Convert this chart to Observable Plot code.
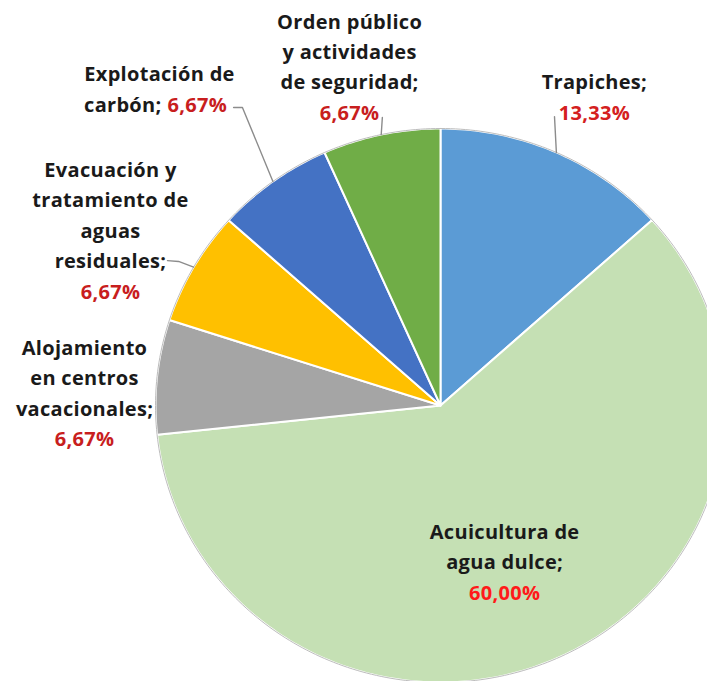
<!DOCTYPE html>
<html>
<head>
<meta charset="utf-8">
<script src="https://cdn.jsdelivr.net/npm/d3@7"></script>
<script src="https://cdn.jsdelivr.net/npm/@observablehq/plot@0.6"></script>
<style>
  html, body { margin: 0; padding: 0; background: #fff; overflow: hidden; }
  #chart svg text { letter-spacing: 0.3px; }
</style>
</head>
<body>
<div id="chart"></div>
<script>
// ---- Data ----
const categories = [
  "Trapiches",
  "Acuicultura de agua dulce",
  "Alojamiento en centros vacacionales",
  "Evacuación y tratamiento de aguas residuales",
  "Explotación de carbón",
  "Orden público y actividades de seguridad"
];
const values = [13.33, 60.00, 6.67, 6.67, 6.67, 6.67];
const pctLabels = ["13,33%", "60,00%", "6,67%", "6,67%", "6,67%", "6,67%"];
const nameLines = [
  ["Trapiches;"],
  ["Acuicultura de", "agua dulce;"],
  ["Alojamiento", "en centros", "vacacionales;"],
  ["Evacuación y", "tratamiento de", "aguas", "residuales;"],
  ["Explotación de", "carbón;"],
  ["Orden público", "y actividades", "de seguridad;"]
];
const sliceColors = ["#5B9BD5", "#C5E0B4", "#A5A5A5", "#FFC000", "#4472C4", "#70AD47"];
const pctColors = ["#D42020", "#FF1A1A", "#C81E1E", "#C81E1E", "#C81E1E", "#C81E1E"];

// ---- Layout (in the chart's data units; radius = 1) ----
const lineStep = 0.110;
const labelLayout = [
  {x: 0.540, y: 1.164},
  {x: 0.225, y: -0.458},
  {x: -1.249, y: 0.207},
  {x: -1.158, y: 0.848},
  {x: -0.986, y: 1.194, inlineEnd: -0.979, inlineStart: -0.958},
  {x: -0.319, y: 1.384}
];
const leaderStarts = [
  [[0.400, 1.043]],
  null,
  null,
  [[-0.958, 0.523], [-0.919, 0.520]],
  [[-0.726, 1.076], [-0.695, 1.076]],
  [[-0.204, 1.040]]
];

// ---- Build geometry from data ----
const total = d3.sum(values);
let acc = 0;
const slices = values.map((v, i) => {
  const a0 = acc / total * 2 * Math.PI;
  acc += v;
  const a1 = acc / total * 2 * Math.PI;
  const n = Math.max(2, Math.ceil((a1 - a0) / (Math.PI / 180)));
  const pts = [{x: 0, y: 0}];
  for (let k = 0; k <= n; k++) {
    const a = a0 + (a1 - a0) * k / n;
    pts.push({x: Math.sin(a), y: Math.cos(a)});
  }
  pts.push({x: 0, y: 0});
  return {i, a0, a1, mid: (a0 + a1) / 2, pts};
});

const outline = d3.range(0, 361).map(d => ({x: Math.sin(d * Math.PI / 180), y: Math.cos(d * Math.PI / 180)}));

const leaders = [];
slices.forEach(s => {
  const st = leaderStarts[s.i];
  if (!st) return;
  const pts = st.map(p => ({x: p[0], y: p[1]}));
  pts.push({x: Math.sin(s.mid), y: Math.cos(s.mid)});
  leaders.push(pts);
});

const midRows = [], endRows = [], startRows = [];
nameLines.forEach((lines, i) => {
  const L = labelLayout[i];
  lines.forEach((t, k) => {
    const y = L.y - k * lineStep;
    if (L.inlineEnd !== undefined && k === lines.length - 1) {
      endRows.push({x: L.inlineEnd, y, text: t, fill: "#1A1A1A"});
      startRows.push({x: L.inlineStart, y, text: pctLabels[i], fill: pctColors[i]});
    } else {
      midRows.push({x: L.x, y, text: t, fill: "#1A1A1A"});
    }
  });
  if (L.inlineEnd === undefined) {
    midRows.push({x: L.x, y: L.y - lines.length * lineStep, text: pctLabels[i], fill: pctColors[i]});
  }
});

const font = {fontFamily: "'Open Sans', 'DejaVu Sans', sans-serif", fontSize: 20, fontWeight: 700, lineAnchor: "middle"};

const marks = [
  ...slices.map(s => Plot.line(s.pts, {x: "x", y: "y", fill: sliceColors[s.i], stroke: "#ffffff", strokeWidth: 2, strokeLinejoin: "round"})),
  Plot.line(outline, {x: "x", y: "y", stroke: "#BDBDBD", strokeWidth: 1}),
  ...leaders.map(p => Plot.line(p, {x: "x", y: "y", stroke: "#8C8C8C", strokeWidth: 1.4})),
  Plot.text(midRows, {x: "x", y: "y", text: "text", fill: "fill", textAnchor: "middle", ...font}),
  Plot.text(endRows, {x: "x", y: "y", text: "text", fill: "fill", textAnchor: "end", ...font}),
  Plot.text(startRows, {x: "x", y: "y", text: "text", fill: "fill", textAnchor: "start", ...font})
];

const chart = Plot.plot({
  width: 707,
  height: 681,
  margin: 0,
  x: {domain: [-1, 1], range: [155, 725], axis: null},
  y: {domain: [-1, 1], range: [682, 128], axis: null},
  style: {background: "#fff"},
  marks
});
document.getElementById("chart").appendChild(chart);
</script>
</body>
</html>
